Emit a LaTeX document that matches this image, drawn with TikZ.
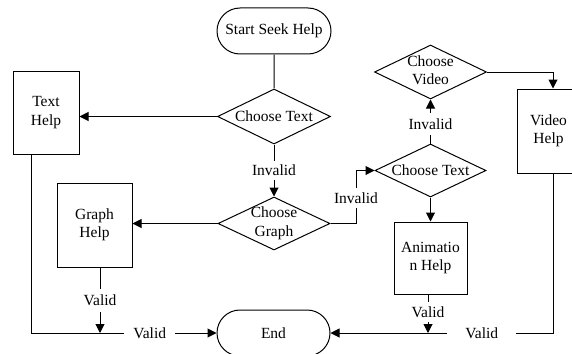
\documentclass[tikz,border=0pt]{standalone}
\usepackage{fontspec}
\setmainfont{Liberation Serif}
\usetikzlibrary{shapes.geometric,shapes.misc,arrows.meta}
\begin{document}
\begin{tikzpicture}[x=1pt,y=-1pt,
  every node/.style={font=\fontsize{15.5}{18.5}\selectfont},
  line/.style={line width=1pt},
  arr/.style={line, -{Triangle[length=9pt,width=9pt]}},
  term/.style={draw, line width=1pt, rounded rectangle, minimum width=114pt,
    minimum height=46pt, inner sep=0pt},
  dec/.style={draw, line width=1pt, diamond, aspect=1, inner sep=0pt,
    minimum width=113pt, minimum height=55pt},
  proc/.style={draw, line width=1pt, rectangle, align=center, inner sep=0pt},
  lbl/.style={fill=white, inner xsep=2pt, inner ysep=4.5pt},
]
\useasboundingbox (0,0) rectangle (572,353);

% terminals
\node[term] (start) at (274,31) {Start Seek Help};
\node[term, minimum width=113pt] (endn) at (273.5,333) {End};

% decisions
\node[dec] (ct1) at (274,116.5) {\makebox[0pt]{Choose Text}};
\node[dec, minimum width=112pt, minimum height=53pt] (cg) at (274,223.5)
  {\makebox[0pt]{\begin{tabular}{@{}c@{}}Choose\\Graph\end{tabular}}};
\node[dec, minimum width=111pt, minimum height=53pt] (ct2) at (430.5,170.5)
  {\makebox[0pt]{Choose Text}};
\node[dec, minimum width=112pt, minimum height=54pt] (cv) at (430.5,72)
  {\makebox[0pt]{\begin{tabular}{@{}c@{}}Choose\\Video\end{tabular}}};

% help boxes
\node[proc, minimum width=66pt, minimum height=83pt] (th) at (46,112.5) {Text\\Help};
\node[proc, minimum width=75pt, minimum height=84pt] (gh) at (94.5,225) {Graph\\Help};
\node[proc, minimum width=73pt, minimum height=72pt] (an) at (430.5,258) {Animatio\\n Help};
\node[proc, minimum width=63pt, minimum height=84pt] (vh) at (548.5,131) {Video\\Help};

% junction points
\coordinate (j1) at (356,223.5);
\coordinate (gv) at (100,333);
\coordinate (av) at (428,333);

% connectors
\draw[line] (start) -- (ct1);
\draw[arr] (ct1.west) -- (ct1.west -| th.east);
\draw[arr] (ct1) -- node[lbl]{Invalid} (cg);
\draw[arr] (cg.west) -- (cg.west -| gh.east);
\draw[arr] (cg.east) -- (j1) |- node[lbl, pos=0.24]{Invalid} (ct2.west);
\draw[arr] (ct2) -- (an);
\draw[arr] (ct2) -- node[lbl, pos=0.44, inner ysep=5.5pt]{Invalid} (cv);
\draw[arr] (cv.east) -| ([xshift=4.5pt]vh.north);
\draw[arr] ([xshift=4.5pt]vh.south) |- node[lbl, pos=0.66, inner xsep=18pt]{Valid} (endn.east);
\draw[arr] ([xshift=-15pt]th.south) |- node[lbl, pos=0.82, inner xsep=9pt]{Valid} (endn.west);
\draw[arr] ([xshift=5.5pt]gh.south) -- node[lbl, inner ysep=6pt]{Valid} (gv);
\draw[arr] ([xshift=-2.5pt]an.south) -- node[lbl, pos=0.46]{Valid} (av);
\end{tikzpicture}
\end{document}
